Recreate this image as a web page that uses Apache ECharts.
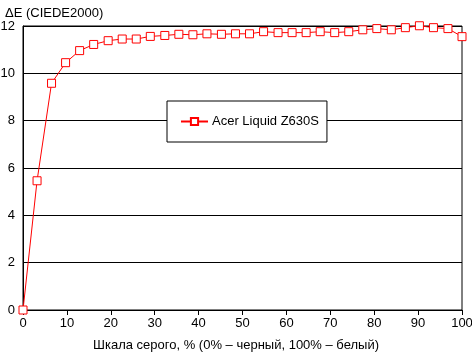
<!DOCTYPE html>
<html>
<head>
<meta charset="utf-8">
<script src="https://cdn.jsdelivr.net/npm/echarts@6/dist/echarts.min.js"></script>
<style>
  html, body { margin: 0; padding: 0; background: #fff; }
  #chart { width: 472px; height: 352px; }
</style>
</head>
<body>
<div id="chart"></div>
<script>
// grey level, % and measured deltaE per point
const grayLevels = [0, 3.2, 6.5, 9.7, 12.9, 16.1, 19.4, 22.6, 25.8, 29.0, 32.3, 35.5, 38.7, 41.9, 45.2, 48.4,
  51.6, 54.8, 58.1, 61.3, 64.5, 67.7, 71.0, 74.2, 77.4, 80.6, 83.9, 87.1, 90.3, 93.5, 96.8, 100]
const deltaE = [0, 5.46, 9.58, 10.45, 10.96, 11.22, 11.38, 11.45, 11.45, 11.56, 11.6, 11.65, 11.63, 11.67, 11.65, 11.67,
  11.67, 11.76, 11.72, 11.72, 11.72, 11.76, 11.72, 11.76, 11.84, 11.89, 11.84, 11.93, 12.01, 11.93, 11.89, 11.55]
const seriesName = 'Acer Liquid Z630S'
const yTitle = 'ΔE (CIEDE2000)'
const xTitle = 'Шкала серого, % (0% – черный, 100% – белый)'

const font = 'Arial, "Liberation Sans", sans-serif'
const chart = echarts.init(document.getElementById('chart'))

chart.setOption({
  animation: false,
  textStyle: { fontFamily: font },
  title: [
    { text: yTitle, left: 0, top: 2, textStyle: { fontSize: 13, fontWeight: 'normal', color: '#000', fontFamily: font } },
    { text: xTitle, left: 'center', top: 334, textStyle: { fontSize: 13, fontWeight: 'normal', color: '#000', fontFamily: font } }
  ],
  legend: {
    left: 167,
    top: 101,
    padding: [14, 8, 14, 13],
    itemWidth: 27,
    itemHeight: 9,
    itemGap: 4,
    backgroundColor: '#fff',
    borderColor: '#000',
    borderWidth: 1,
    textStyle: { fontSize: 13, color: '#000', fontFamily: font, padding: [0, 0, 0, -1] },
    data: [seriesName]
  },
  grid: {
    left: 23,
    right: 10,
    top: 26,
    bottom: 42,
    containLabel: false,
    outerBoundsMode: 'none',
    show: true,
    borderColor: '#000',
    borderWidth: 1
  },
  xAxis: {
    type: 'value',
    min: 0,
    max: 100,
    interval: 10,
    axisLine: { lineStyle: { color: '#000', width: 1 } },
    axisTick: { show: true, length: 5, lineStyle: { color: '#000' } },
    axisLabel: { color: '#000', fontSize: 13, margin: 7, fontFamily: font },
    splitLine: { show: false }
  },
  yAxis: {
    type: 'value',
    min: 0,
    max: 12,
    interval: 2,
    axisLine: { show: true, lineStyle: { color: '#000', width: 1 } },
    axisTick: { show: false },
    axisLabel: { color: '#000', fontSize: 13, margin: 8, fontFamily: font },
    splitLine: { show: true, lineStyle: { color: '#000', width: 1 } }
  },
  series: [{
    name: seriesName,
    type: 'line',
    data: grayLevels.map((x, i) => [x, deltaE[i]]),
    clip: false,
    symbol: 'rect',
    symbolSize: 8,
    showAllSymbol: true,
    lineStyle: { color: '#ff0000', width: 1 },
    itemStyle: { color: '#fff', borderColor: '#ff0000', borderWidth: 1 }
  }]
})
</script>
</body>
</html>
